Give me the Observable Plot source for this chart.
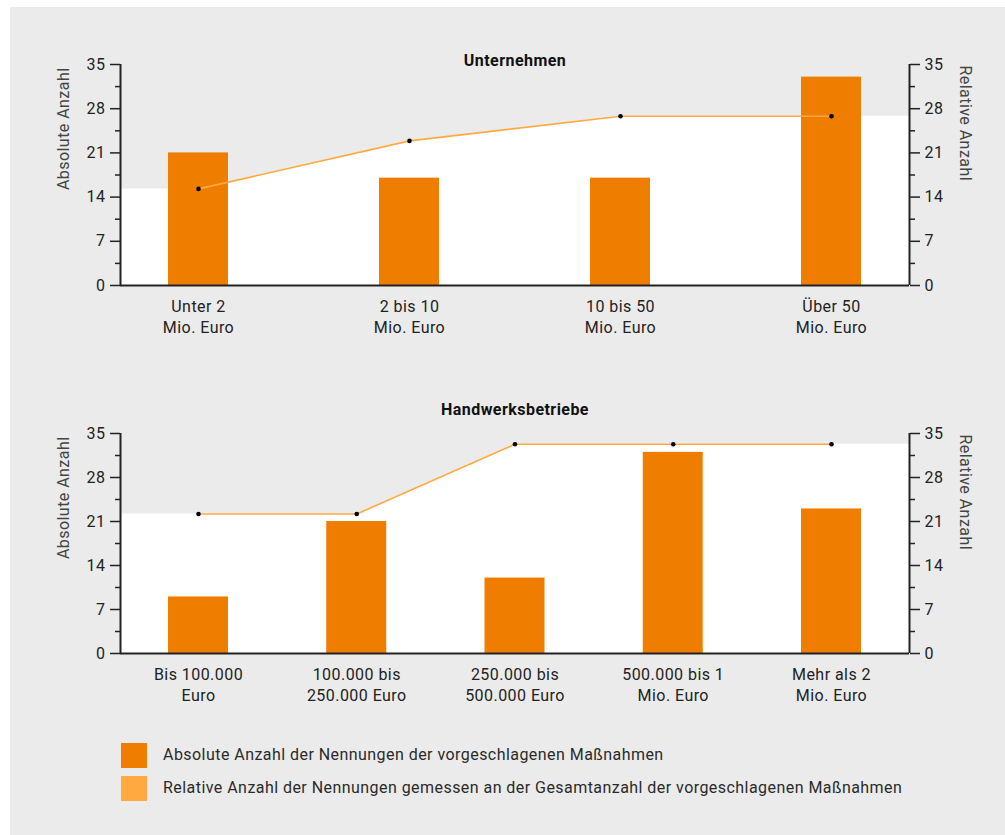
<!DOCTYPE html>
<html>
<head>
<meta charset="utf-8">
<script src="https://cdn.jsdelivr.net/npm/d3@7"></script>
<script src="https://cdn.jsdelivr.net/npm/@observablehq/plot@0.6"></script>
<style>
  html, body { margin: 0; padding: 0; background: #ffffff; width: 1005px; height: 835px; overflow: hidden; }
  #bg { position: absolute; left: 10px; top: 7px; width: 995px; height: 828px; background: #ebebeb; }
  .panel { position: absolute; left: 0; }
  #top { top: 0; }
  #bottom { top: 370px; }
  svg text { letter-spacing: 0.45px; }
  #legend { position: absolute; left: 121px; top: 743px; font-family: Roboto, sans-serif; font-size: 16px; letter-spacing: 0.45px; color: #2a2a2a; }
  .item { position: relative; height: 33px; }
  .sw { position: absolute; left: 0; top: 0; width: 26px; height: 25px; }
  .lab { position: absolute; left: 42px; top: 2px; white-space: nowrap; }
</style>
</head>
<body>
<div id="bg"></div>
<div id="top" class="panel"></div>
<div id="bottom" class="panel"></div>
<div id="legend"></div>
<script>
// ---- Data ----
const titleU = "Unternehmen";
const catsU = ["Unter 2\nMio. Euro", "2 bis 10\nMio. Euro", "10 bis 50\nMio. Euro", "Über 50\nMio. Euro"];
const absU = [21, 17, 17, 33];
const relU = [15.3, 22.9, 26.8, 26.8];

const titleH = "Handwerksbetriebe";
const catsH = ["Bis 100.000\nEuro", "100.000 bis\n250.000 Euro", "250.000 bis\n500.000 Euro", "500.000 bis 1\nMio. Euro", "Mehr als 2\nMio. Euro"];
const absH = [9, 21, 12, 32, 23];
const relH = [22.2, 22.2, 33.3, 33.3, 33.3];

const majorTicks = [0, 7, 14, 21, 28, 35];
const minorTicks = [3.5, 10.5, 17.5, 24.5, 31.5];
const yLabelLeft = "Absolute Anzahl";
const yLabelRight = "Relative Anzahl";
const legendLabels = [
  "Absolute Anzahl der Nennungen der vorgeschlagenen Maßnahmen",
  "Relative Anzahl der Nennungen gemessen an der Gesamtanzahl der vorgeschlagenen Maßnahmen"
];

// ---- Style ----
const BAR = "#ef7d00";
const LINE = "#ffa940";
const AXIS = "#222222";
const FONT = "Roboto, sans-serif";
const FS = 16;
const W = 1005, ML = 120, MR = 96;
const EDGE = 78;      // px from axis to first/last category centre
const BARW = 60;      // bar width px

function panel(cats, abs, rel, title, opts) {
  const n = cats.length;
  const plotW = W - ML - MR;
  const spacing = (plotW - 2 * EDGE) / (n - 1);
  const pad = EDGE / spacing;
  const hw = (BARW / 2) / spacing;
  const xmin = -pad, xmax = n - 1 + pad;
  const rows = cats.map((c, i) => ({i, cat: c, abs: abs[i], rel: rel[i]}));
  const areaRows = [{i: xmin, rel: rel[0]}, ...rows, {i: xmax, rel: rel[n - 1]}];
  return Plot.plot({
    width: W,
    height: opts.height,
    marginLeft: ML,
    marginRight: MR,
    marginTop: opts.mt,
    marginBottom: opts.mb,
    style: {fontFamily: FONT, fontSize: FS + "px", color: "#222", background: "transparent", overflow: "visible"},
    x: {domain: [xmin, xmax], axis: null},
    y: {domain: [0, 35]},
    marks: [
      Plot.areaY(areaRows, {x: "i", y: "rel", fill: "#ffffff"}),
      Plot.rectY(rows, {x1: d => d.i - hw, x2: d => d.i + hw, y: "abs", fill: BAR}),
      Plot.line(rows, {x: "i", y: "rel", stroke: LINE, strokeWidth: 1.6}),
      Plot.dot(rows, {x: "i", y: "rel", r: 2.3, fill: "#000"}),
      Plot.ruleX([xmin, xmax], {y1: 0, y2: 35, stroke: AXIS, strokeWidth: 2}),
      Plot.ruleY([0], {stroke: AXIS, strokeWidth: 2}),
      Plot.axisY(majorTicks, {anchor: "left", tickSize: 10, tickPadding: 5, label: null, fontSize: FS, stroke: AXIS, strokeWidth: 1.5}),
      Plot.axisY(minorTicks, {anchor: "left", tickSize: 5, tickFormat: () => "", label: null, stroke: AXIS, strokeWidth: 1.5}),
      Plot.axisY(majorTicks, {anchor: "right", tickSize: 10, tickPadding: 5, label: null, fontSize: FS, stroke: AXIS, strokeWidth: 1.5}),
      Plot.axisY(minorTicks, {anchor: "right", tickSize: 5, tickFormat: () => "", label: null, stroke: AXIS, strokeWidth: 1.5}),
      Plot.text(rows, {x: "i", text: "cat", frameAnchor: "bottom", lineAnchor: "top", dy: 12, lineHeight: 1.3, fontSize: FS, fill: "#222"}),
      Plot.text([title], {frameAnchor: "top", lineAnchor: "middle", dy: opts.titleDy, fontWeight: "bold", fontSize: FS, fill: "#111"}),
      Plot.text([yLabelLeft], {frameAnchor: "top-left", lineAnchor: "middle", dx: -57, dy: 3, rotate: -90, textAnchor: "end", fontSize: FS, fill: "#444"}),
      Plot.text([yLabelRight], {frameAnchor: "top-right", lineAnchor: "middle", dx: 56, dy: 1, rotate: 90, textAnchor: "start", fontSize: FS, fill: "#444"})
    ]
  });
}

document.getElementById("top").appendChild(panel(catsU, absU, relU, titleU, {height: 370, mt: 64, mb: 85, titleDy: -4}));
document.getElementById("bottom").appendChild(panel(catsH, absH, relH, titleH, {height: 355, mt: 63, mb: 72, titleDy: -24}));

const legend = document.getElementById("legend");
[BAR, LINE].forEach((c, k) => {
  const item = document.createElement("div");
  item.className = "item";
  item.innerHTML = `<div class="sw" style="background:${c}"></div><div class="lab">${legendLabels[k]}</div>`;
  legend.appendChild(item);
});
</script>
</body>
</html>
